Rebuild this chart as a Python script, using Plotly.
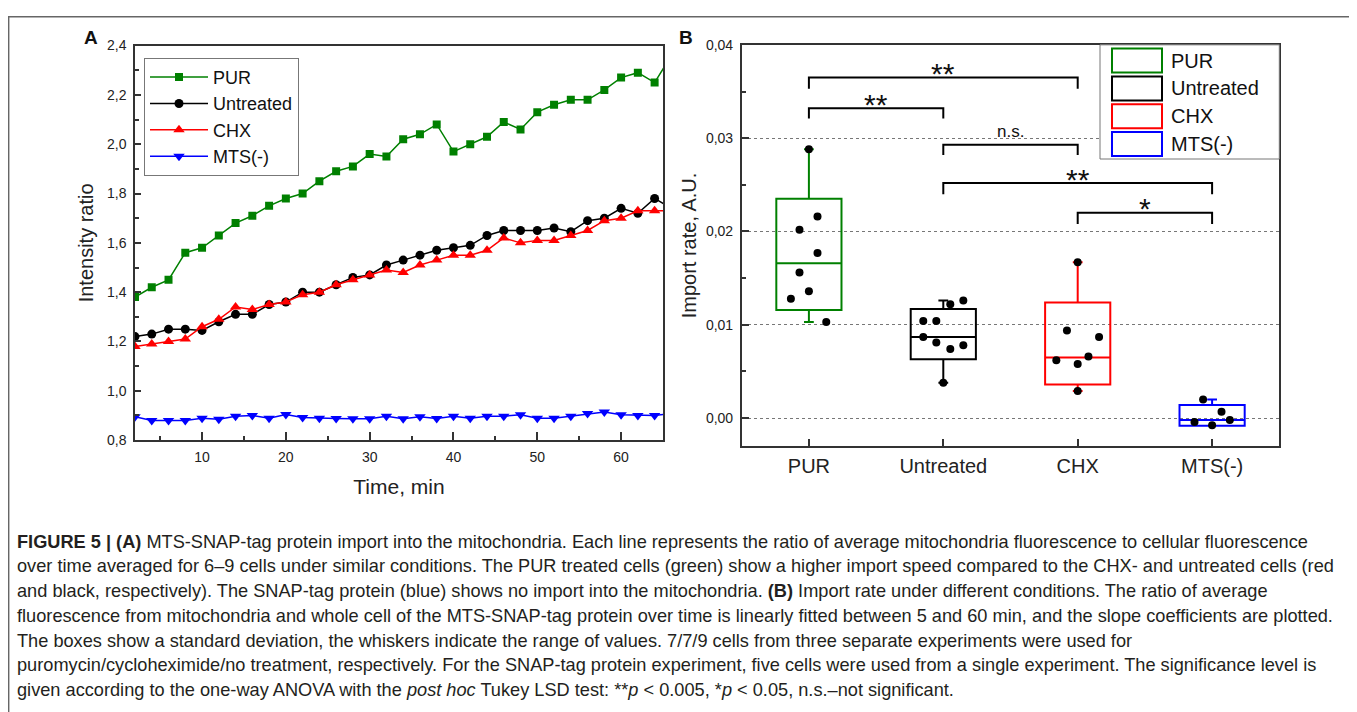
import plotly.graph_objects as go

# figure size; the page adds an 8px body margin
FW, FH = 1341, 712
OX, OY = 8, 8
# empirical vertical mapping of page -> photographed picture
VA, VB = 9.4, 0.976

# ---------------- Panel A data ----------------
time_min = [2, 4, 6, 8, 10, 12, 14, 16, 18, 20, 22, 24, 26, 28, 30, 32, 34,
            36, 38, 40, 42, 44, 46, 48, 50, 52, 54, 56, 58, 60, 62, 64, 66]
pur = [1.38, 1.42, 1.45, 1.56, 1.58, 1.63, 1.68, 1.71, 1.75, 1.78, 1.80, 1.85,
       1.89, 1.91, 1.96, 1.95, 2.02, 2.04, 2.08, 1.97, 2.00, 2.03, 2.09, 2.06,
       2.13, 2.16, 2.18, 2.18, 2.22, 2.27, 2.29, 2.25, 2.36]
untreated = [1.22, 1.23, 1.25, 1.25, 1.245, 1.28, 1.31, 1.31, 1.35, 1.36, 1.40,
             1.40, 1.43, 1.46, 1.47, 1.51, 1.53, 1.55, 1.57, 1.58, 1.59, 1.63,
             1.65, 1.65, 1.65, 1.66, 1.645, 1.69, 1.70, 1.74, 1.72, 1.78, 1.74]
chx = [1.18, 1.19, 1.20, 1.21, 1.26, 1.29, 1.34, 1.33, 1.35, 1.36, 1.39, 1.40,
       1.43, 1.45, 1.47, 1.49, 1.48, 1.51, 1.53, 1.55, 1.55, 1.57, 1.62, 1.60,
       1.61, 1.61, 1.63, 1.65, 1.69, 1.70, 1.73, 1.73, 1.73]
mts = [0.895, 0.88, 0.88, 0.88, 0.889, 0.885, 0.897, 0.90, 0.889, 0.904, 0.892,
       0.889, 0.888, 0.887, 0.887, 0.897, 0.887, 0.895, 0.888, 0.897, 0.889,
       0.897, 0.897, 0.903, 0.889, 0.889, 0.897, 0.908, 0.914, 0.903, 0.90,
       0.90, 0.908]

# ---------------- Panel B data ----------------
groups = ["PUR", "Untreated", "CHX", "MTS(-)"]
group_colors = ["#008000", "#000000", "#ff0000", "#0000ff"]
box_low = [0.0116, 0.0063, 0.0036, -0.0008]
box_mid = [0.0166, 0.0087, 0.0065, -0.0002]
box_high = [0.0235, 0.0117, 0.0124, 0.0014]
whisk_low = [0.0103, 0.0038, 0.0029, -0.0008]
whisk_high = [0.0288, 0.0126, 0.0167, 0.0020]

pur_pts = [0.0288, 0.0216, 0.0202, 0.0177, 0.0156, 0.0128, 0.0136, 0.0103]
pur_jit = [0.0, 0.064, -0.07, 0.064, -0.07, -0.134, 0.0, 0.129]
unt_pts = [0.0104, 0.0104, 0.0087, 0.0081, 0.0074, 0.0078, 0.0122, 0.0126, 0.0038]
unt_jit = [-0.149, -0.052, -0.149, -0.052, 0.052, 0.149, 0.052, 0.149, 0.0]
chx_pts = [0.0167, 0.0094, 0.0087, 0.0062, 0.0058, 0.0066, 0.0029]
chx_jit = [0.0, -0.08, 0.159, -0.159, 0.0, 0.08, 0.0]
mts_pts = [0.0020, 0.0007, -0.0004, -0.00075, -0.0002]
mts_jit = [-0.067, 0.07, -0.131, 0.0, 0.132]

FONT = "Arial, Liberation Sans, sans-serif"


def px(x):
    return (x - OX) / FW


def py(y):
    return 1 - ((y - VA) / VB - OY) / FH


fig = go.Figure()

# Panel A lines
specs = [("PUR", pur, "#008000", "square", 8),
         ("Untreated", untreated, "#000000", "circle", 9),
         ("CHX", chx, "#ff0000", "triangle-up", 10),
         ("MTS(-)", mts, "#0000ff", "triangle-down", 10)]
for name, vals, col, sym, sz in specs:
    fig.add_trace(go.Scatter(x=time_min, y=vals, name=name, mode="lines+markers",
                             line=dict(color=col, width=1.5),
                             marker=dict(symbol=sym, size=sz, color=col),
                             xaxis="x", yaxis="y", legend="legend"))

# Panel B boxes
for i, g in enumerate(groups):
    fig.add_trace(go.Box(x=[i], q1=[box_low[i]], median=[box_mid[i]], q3=[box_high[i]],
                         lowerfence=[whisk_low[i]], upperfence=[whisk_high[i]],
                         name=g, width=0.485, whiskerwidth=0.15,
                         line=dict(color=group_colors[i], width=2),
                         fillcolor="rgba(0,0,0,0)", boxpoints=False,
                         showlegend=False, xaxis="x2", yaxis="y2"))

for i, (pts, jit) in enumerate([(pur_pts, pur_jit), (unt_pts, unt_jit),
                                (chx_pts, chx_jit), (mts_pts, mts_jit)]):
    fig.add_trace(go.Scatter(x=[i + j for j in jit], y=pts, mode="markers",
                             marker=dict(color="black", size=8),
                             showlegend=False, xaxis="x2", yaxis="y2"))

ax_common = dict(showline=True, linecolor="#333", linewidth=1.5, mirror=True,
                 showgrid=False, zeroline=False, ticks="inside",
                 tickcolor="#333", tickwidth=1.5,
                 tickfont=dict(family=FONT, size=14, color="#222"))

fig.update_layout(
    width=FW, height=FH, margin=dict(l=0, r=0, t=0, b=0),
    paper_bgcolor="white", plot_bgcolor="white",
    separators=", ",
    font=dict(family=FONT, color="#222"),
    xaxis=dict(domain=[px(135), px(663)], anchor="y", range=[2, 65],
               tick0=0, dtick=10, ticklen=8, ticklabelstandoff=3,
               minor=dict(dtick=5, tick0=0, ticks="inside", ticklen=4, tickcolor="#333"),
               title=dict(text="Time, min", font=dict(size=21, family=FONT), standoff=16),
               **ax_common),
    yaxis=dict(domain=[py(440.7), py(46.7)], anchor="x", range=[0.8, 2.4],
               dtick=0.2, tick0=0, tickformat=".1f", ticklen=6, ticklabelstandoff=4,
               minor=dict(dtick=0.1, tick0=0, ticks="inside", ticklen=4, tickcolor="#333"),
               title=dict(text="Intensity ratio", font=dict(size=20, family=FONT), standoff=8),
               **ax_common),
    xaxis3=dict(overlaying="x", anchor="y", side="top", range=[2, 65],
                tickvals=[5, 15, 25, 35, 45, 55], ticks="inside", ticklen=7,
                tickcolor="#333", tickwidth=1.5, showticklabels=False,
                showgrid=False, zeroline=False, showline=False),
    xaxis2=dict(domain=[px(741.7), px(1279.3)], anchor="y2", range=[-0.5, 3.5],
                tickvals=[0, 1, 2, 3], ticktext=groups, ticklen=7, ticklabelstandoff=1,
                **{**ax_common, "tickfont": dict(family=FONT, size=20, color="#222")}),
    yaxis2=dict(domain=[py(446.7), py(46)], anchor="x2", range=[-0.003, 0.04],
                dtick=0.01, tick0=0, tickformat=".2f", ticklen=8, ticklabelstandoff=4,
                minor=dict(dtick=0.005, tick0=0, ticks="inside", ticklen=5, tickcolor="#333"),
                title=dict(text="Import rate, A.U.", font=dict(size=20, family=FONT), standoff=4),
                **{**ax_common, "showgrid": True, "gridcolor": "#777",
                   "griddash": "dot", "gridwidth": 1}),
    legend=dict(x=px(144), y=py(59), xanchor="left", yanchor="top",
                bgcolor="white", bordercolor="#777", borderwidth=1,
                font=dict(family=FONT, size=18, color="#111"),
                itemwidth=58, tracegroupgap=0, entrywidth=168, entrywidthmode="pixels"),
)

shapes = []
annotations = []

# outer frame
shapes.append(dict(type="rect", xref="paper", yref="paper", x0=0.0005, x1=px(1350),
                   y0=-0.05, y1=0.999, line=dict(color="#666", width=1.5)))

# significance brackets
brackets = [(0, 2, 0.0365, 0.0353, "**", 0.03695, 30),
            (0, 1, 0.0332, 0.0321, "**", 0.03365, 30),
            (1, 2, 0.0293, 0.0282, "n.s.", 0.0307, 17),
            (1, 3, 0.0252, 0.0240, "**", 0.02555, 30),
            (2, 3, 0.0220, 0.0208, "*", 0.02245, 30)]
for x0, x1, yt, yb, lab, ly, fs in brackets:
    shapes.append(dict(type="path", xref="x2", yref="y2",
                       path=f"M {x0},{yb} L {x0},{yt} L {x1},{yt} L {x1},{yb}",
                       line=dict(color="black", width=2)))
    annotations.append(dict(xref="x2", yref="y2", x=(x0 + x1) / 2, y=ly,
                            text=lab, showarrow=False, xanchor="center", yanchor="middle",
                            font=dict(family=FONT, size=fs, color="#111")))

# legend for panel B (box symbols)
shapes.append(dict(type="rect", xref="paper", yref="paper", x0=px(1100), x1=px(1279.3),
                   y0=py(160), y1=py(46), line=dict(color="#777", width=1),
                   fillcolor="white", layer="above"))
for i, g in enumerate(groups):
    yc = 61.7 + i * 27.8
    shapes.append(dict(type="rect", xref="paper", yref="paper", x0=px(1112), x1=px(1162),
                       y0=py(yc + 12), y1=py(yc - 12),
                       line=dict(color=group_colors[i], width=2), layer="above"))
    annotations.append(dict(xref="paper", yref="paper", x=px(1169), y=py(yc),
                            xanchor="left", yanchor="middle", text=g, showarrow=False,
                            font=dict(family=FONT, size=20, color="#111")))

# panel letters
annotations.append(dict(xref="paper", yref="paper", x=px(91), y=py(38.3), text="<b>A</b>",
                        xanchor="center", yanchor="middle",
                        showarrow=False, font=dict(family=FONT, size=19, color="#111")))
annotations.append(dict(xref="paper", yref="paper", x=px(686), y=py(38.3), text="<b>B</b>",
                        xanchor="center", yanchor="middle",
                        showarrow=False, font=dict(family=FONT, size=19, color="#111")))

# caption
caption = [
    "<b>FIGURE 5 | (A)</b> MTS-SNAP-tag protein import into the mitochondria. Each line represents the ratio of average mitochondria fluorescence to cellular fluorescence",
    "over time averaged for 6–9 cells under similar conditions. The PUR treated cells (green) show a higher import speed compared to the CHX- and untreated cells (red",
    "and black, respectively). The SNAP-tag protein (blue) shows no import into the mitochondria. <b>(B)</b> Import rate under different conditions. The ratio of average",
    "fluorescence from mitochondria and whole cell of the MTS-SNAP-tag protein over time is linearly fitted between 5 and 60 min, and the slope coefficients are plotted.",
    "The boxes show a standard deviation, the whiskers indicate the range of values. 7/7/9 cells from three separate experiments were used for",
    "puromycin/cycloheximide/no treatment, respectively. For the SNAP-tag protein experiment, five cells were used from a single experiment. The significance level is",
    "given according to the one-way ANOVA with the <i>post hoc</i> Tukey LSD test: **<i>p</i> &lt; 0.005, *<i>p</i> &lt; 0.05, n.s.–not significant.",
]
for k, line in enumerate(caption):
    annotations.append(dict(xref="paper", yref="paper", x=px(15), y=py(542 + 24.7 * k),
                            xanchor="left", yanchor="middle", text=line, showarrow=False,
                            align="left",
                            font=dict(family="Liberation Sans, Arial, sans-serif",
                                      size=18.2, color="#231f20")))

fig.update_layout(shapes=shapes, annotations=annotations)
fig.write_html("out.html")
